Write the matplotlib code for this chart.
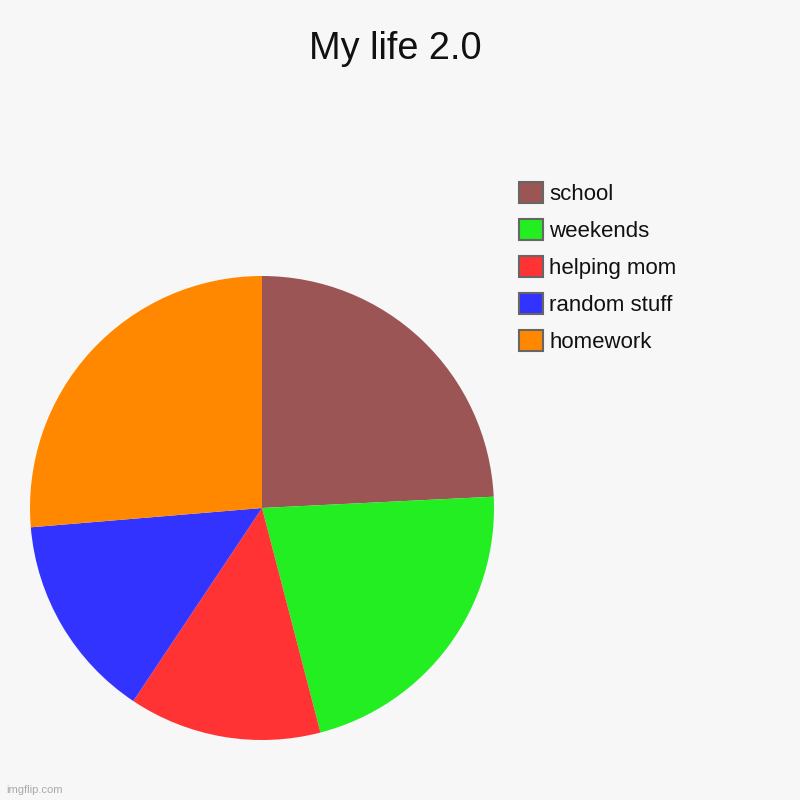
import matplotlib.pyplot as plt

plt.rcParams['font.family'] = ['Liberation Sans', 'DejaVu Sans']

# datos del gráfico
etiquetas = ["school", "weekends", "helping mom", "random stuff", "homework"]
valores = [24.2, 21.7, 13.4, 14.3, 26.3]
colores = ["#9b5555", "#22ee22", "#ff3333", "#3333ff", "#ff8800"]

fondo = "#f7f7f7"

fig = plt.figure(figsize=(8, 8), dpi=100, facecolor=fondo)
ax = fig.add_axes([0.0375, 0.075, 0.58, 0.58])
ax.set_facecolor(fondo)

cunas, _ = ax.pie(valores, colors=colores, startangle=90, counterclock=False,
                  wedgeprops=dict(linewidth=0))
ax.set_xlim(-1, 1)
ax.set_ylim(-1, 1)
ax.set_aspect("equal")
ax.axis("off")

fig.text(0.494, 0.939, "My life 2.0", ha="center", va="center", fontsize=27.3, color="#111111")

leg = fig.legend(cunas, etiquetas, loc="upper left", bbox_to_anchor=(0.638, 0.783),
                 frameon=False, fontsize=16, handlelength=1.05, handleheight=1.05,
                 handletextpad=0.3, labelspacing=0.63, borderaxespad=0)
for h in leg.legend_handles:
    h.set_edgecolor("#666666")
    h.set_linewidth(1.5)
for t in leg.get_texts():
    t.set_color("#111111")

fig.text(0.008, 0.012, "imgflip.com", fontsize=8, color="#aaaaaa", ha="left", va="center")

fig.savefig("out.png", dpi=100, facecolor=fondo)
